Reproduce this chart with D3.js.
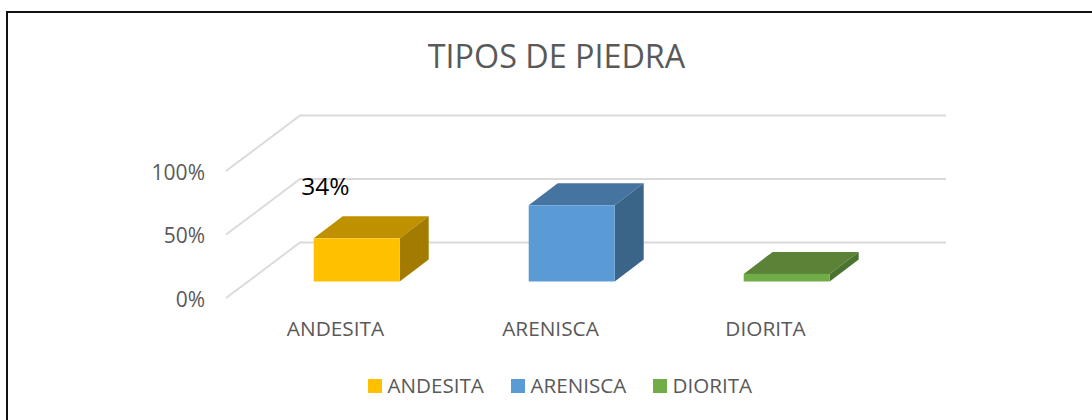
<!DOCTYPE html>
<html lang="en">
<head>
    <meta charset="UTF-8">
    <script src="https://d3js.org/d3.v7.min.js"></script>
    <title>Tipos de piedra</title>
    <style>
        html, body { margin: 0; padding: 0; background: #fff; }
        svg { display: block; }
        text { font-family: 'Open Sans', sans-serif; fill: #595959; }
    </style>
</head>
<body>
<svg height="420" width="1092"></svg>
<script>
    const width = 1092, height = 420;

    const categories = ["ANDESITA", "ARENISCA", "DIORITA"];
    const values = [0.34, 0.60, 0.06];
    const yTicks = [0, 0.5, 1];
    const faceColors = ["#ffc000", "#5b9bd5", "#70ad47"];
    const topColors = ["#bf9000", "#44749f", "#5a8337"];
    const sideColors = ["#a37b00", "#3a6488", "#4b7330"];

    const x = d3.scaleBand().domain(categories).range([228, 873])
            .paddingInner(0.6).paddingOuter(0.3);
    const y = d3.scaleLinear().domain([0, 1]).range([298, 171]);
    const color = d3.scaleOrdinal().domain(categories).range(faceColors);

    // fake 3d: how far the floor and the bars go back
    const wall = {dx: 74, dy: -55.5};
    const gap = {dx: 21.2, dy: -16.5};
    const depth = {dx: 29, dy: -22};

    const svg = d3.select("svg");

    // page border
    svg.append("path").attr("d", `M7,${height}V12H${width}`)
            .attr("fill", "none").attr("stroke", "#111").attr("stroke-width", 2);

    svg.append("text").attr("x", 556.5).attr("y", 68)
            .attr("text-anchor", "middle").style("font-size", "32.3px")
            .text("TIPOS DE PIEDRA");

    // grid: floor/side edge then the back wall line
    const grid = svg.append("g").selectAll("path").data(yTicks).enter().append("path")
            .attr("d", d => `M${x.range()[0] - 2},${y(d)}l${wall.dx},${wall.dy}H946`)
            .attr("fill", "none").attr("stroke", "#d9d9d9").attr("stroke-width", 1.8);

    const yAxis = d3.axisLeft(y).tickValues(yTicks).tickFormat(d3.format(".0%")).tickSize(0).tickPadding(0);
    svg.append("g").attr("transform", "translate(205,6)").call(yAxis)
            .call(g => g.select(".domain").remove())
            .selectAll("text").style("font-size", "21px").attr("dy", "0.1em");

    const xAxis = d3.axisBottom(x).tickSize(0).tickPadding(0);
    svg.append("g").attr("transform", "translate(0,321)").call(xAxis)
            .call(g => g.select(".domain").remove())
            .selectAll("text").style("font-size", "20.8px").attr("dy", "0.71em");

    const bars = svg.append("g").selectAll("g").data(categories).enter().append("g")
            .attr("transform", `translate(${gap.dx},${gap.dy})`);

    bars.append("path")
            .attr("d", (d, i) => `M${x(d)},${y(values[i])}l${depth.dx},${depth.dy}h${x.bandwidth()}l${-depth.dx},${-depth.dy}z`)
            .attr("fill", (d, i) => topColors[i]);
    bars.append("path")
            .attr("d", (d, i) => `M${x(d) + x.bandwidth()},${y(values[i])}l${depth.dx},${depth.dy}V${y(0) + depth.dy}l${-depth.dx},${-depth.dy}z`)
            .attr("fill", (d, i) => sideColors[i]);
    bars.append("rect")
            .attr("x", d => x(d)).attr("width", x.bandwidth())
            .attr("y", (d, i) => y(values[i])).attr("height", (d, i) => y(0) - y(values[i]))
            .attr("fill", d => color(d));

    // only the first bar carries a label in the original
    svg.append("text").attr("x", x(categories[0]) + gap.dx - 12.5).attr("y", y(values[0]) + gap.dy - 43)
            .style("font-size", "24.5px").style("fill", "#000")
            .text(d3.format(".0%")(values[0]));

    const legendX = [368, 511, 653];
    const legend = svg.append("g").selectAll("g").data(categories).enter().append("g")
            .attr("transform", (d, i) => `translate(${legendX[i]},379)`);
    legend.append("rect").attr("width", 14).attr("height", 14).attr("fill", d => color(d));
    legend.append("text").attr("x", 19.5).attr("y", 14).style("font-size", "20.6px").text(d => d);
</script>
</body>
</html>
